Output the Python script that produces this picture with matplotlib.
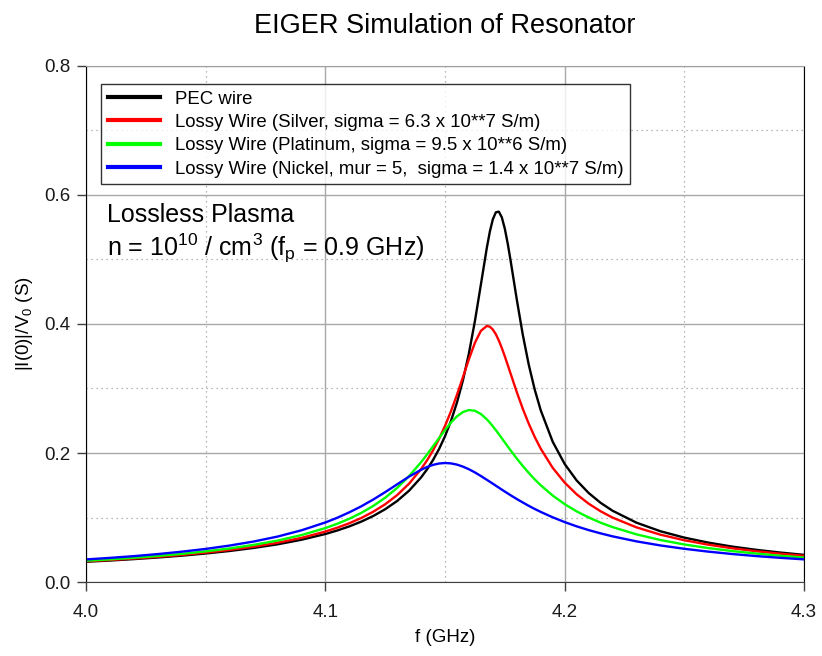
import matplotlib
matplotlib.use("Agg")
import matplotlib.pyplot as plt
from matplotlib.ticker import MultipleLocator, FormatStrFormatter

plt.rcParams['font.family'] = ['Liberation Sans', 'DejaVu Sans']
plt.rcParams['mathtext.fontset'] = 'custom'
plt.rcParams['mathtext.rm'] = 'Liberation Sans'
plt.rcParams['mathtext.it'] = 'Liberation Sans:italic'

# frequency samples (GHz), denser around the resonance
freq = [4.000, 4.010, 4.020, 4.030, 4.040, 4.050, 4.060, 4.070, 4.080, 4.090, 4.100,
        4.105, 4.110, 4.115, 4.120, 4.125, 4.130, 4.135, 4.140,
        4.1425, 4.145, 4.1475, 4.150, 4.1525, 4.155, 4.1575, 4.160, 4.1625, 4.165,
        4.1675, 4.16875, 4.170, 4.17125, 4.1725, 4.17375, 4.175, 4.17625, 4.1775,
        4.180, 4.1825, 4.185, 4.1875, 4.190,
        4.195, 4.200, 4.205, 4.210, 4.215, 4.220,
        4.230, 4.240, 4.250, 4.260, 4.270, 4.280, 4.290, 4.300]

# |I(0)|/V0
pec = [0.0314, 0.0333, 0.0355, 0.0380, 0.0408, 0.0442, 0.0481, 0.0528, 0.0584, 0.0655, 0.0744,
       0.0799, 0.0862, 0.0936, 0.1023, 0.1128, 0.1256, 0.1416, 0.1621,
       0.1746, 0.1891, 0.2060, 0.2259, 0.2497, 0.2782, 0.3128, 0.3545, 0.4044, 0.4612,
       0.5186, 0.5434, 0.5624, 0.5732, 0.5742, 0.5653, 0.5477, 0.5239, 0.4963,
       0.4379, 0.3835, 0.3369, 0.2982, 0.2662,
       0.2175, 0.1830, 0.1575, 0.1381, 0.1228, 0.1105,
       0.0920, 0.0787, 0.0688, 0.0611, 0.0549, 0.0499, 0.0457, 0.0421]
silver = [0.0321, 0.0341, 0.0364, 0.0390, 0.0420, 0.0456, 0.0497, 0.0547, 0.0608, 0.0684, 0.0782,
          0.0842, 0.0911, 0.0992, 0.1089, 0.1205, 0.1347, 0.1525, 0.1750,
          0.1886, 0.2040, 0.2217, 0.2419, 0.2647, 0.2902, 0.3176, 0.3455, 0.3708, 0.3894,
          0.3970, 0.3958, 0.3914, 0.3841, 0.3744, 0.3627, 0.3498, 0.3361, 0.3221,
          0.2944, 0.2686, 0.2454, 0.2248, 0.2067,
          0.1770, 0.1541, 0.1360, 0.1215, 0.1097, 0.0999,
          0.0847, 0.0734, 0.0647, 0.0579, 0.0523, 0.0477, 0.0439, 0.0406]
platinum = [0.0330, 0.0351, 0.0376, 0.0404, 0.0436, 0.0475, 0.0520, 0.0575, 0.0642, 0.0727, 0.0836,
            0.0903, 0.0980, 0.1071, 0.1179, 0.1306, 0.1459, 0.1642, 0.1857,
            0.1977, 0.2103, 0.2231, 0.2356, 0.2472, 0.2568, 0.2635, 0.2666, 0.2655, 0.2605,
            0.2521, 0.2470, 0.2414, 0.2354, 0.2292, 0.2228, 0.2164, 0.2100, 0.2037,
            0.1914, 0.1799, 0.1691, 0.1591, 0.1500,
            0.1340, 0.1207, 0.1095, 0.1001, 0.0920, 0.0851,
            0.0739, 0.0651, 0.0582, 0.0526, 0.0480, 0.0441, 0.0407, 0.0379]
nickel = [0.0350, 0.0374, 0.0401, 0.0433, 0.0470, 0.0513, 0.0565, 0.0627, 0.0704, 0.0801, 0.0923,
          0.0996, 0.1080, 0.1173, 0.1278, 0.1393, 0.1514, 0.1634, 0.1740,
          0.1783, 0.1816, 0.1837, 0.1845, 0.1839, 0.1820, 0.1789, 0.1748, 0.1699, 0.1643,
          0.1584, 0.1554, 0.1524, 0.1493, 0.1463, 0.1432, 0.1402, 0.1373, 0.1343,
          0.1287, 0.1233, 0.1181, 0.1132, 0.1087,
          0.1003, 0.0929, 0.0863, 0.0805, 0.0754, 0.0708,
          0.0630, 0.0567, 0.0515, 0.0471, 0.0434, 0.0402, 0.0375, 0.0351]

labels = ['PEC wire',
          'Lossy Wire (Silver, sigma = 6.3 x 10**7 S/m)',
          'Lossy Wire (Platinum, sigma = 9.5 x 10**6 S/m)',
          'Lossy Wire (Nickel, mur = 5,  sigma = 1.4 x 10**7 S/m)']
colors = ['#000000', '#ff0000', '#00ff00', '#0000ff']

fig = plt.figure(figsize=(8.22, 6.56), dpi=100)
ax = fig.add_axes([0.1046, 0.1128, 0.8735, 0.7866])

for ys, lab, c in zip([pec, silver, platinum, nickel], labels, colors):
    ax.plot(freq, ys, color=c, lw=1.7, label=lab)

ax.set_xlim(4.0, 4.3)
ax.set_ylim(0.0, 0.8)
ax.xaxis.set_major_locator(MultipleLocator(0.1))
ax.xaxis.set_minor_locator(MultipleLocator(0.05))
ax.yaxis.set_major_locator(MultipleLocator(0.2))
ax.yaxis.set_minor_locator(MultipleLocator(0.1))
ax.xaxis.set_major_formatter(FormatStrFormatter('%.1f'))
ax.yaxis.set_major_formatter(FormatStrFormatter('%.1f'))

ax.grid(which='major', color='#a8a8a8', lw=1.0, ls='-')
ax.grid(which='minor', color='#a0a0a0', lw=0.9, ls=(0, (1, 3)))
ax.set_axisbelow(True)

ax.tick_params(which='major', direction='out', length=6.5, width=1, colors='#404040',
               labelcolor='#1a1a1a', labelsize=13.5)
ax.tick_params(axis='x', which='major', pad=9)
ax.tick_params(axis='y', which='major', pad=5)
ax.tick_params(which='minor', length=0)

ax.spines['left'].set_color('#000000')
ax.spines['right'].set_color('#000000')
ax.spines['bottom'].set_color('#404040')
ax.spines['top'].set_color('#a0a0a0')

ax.set_title('EIGER Simulation of Resonator', fontsize=19.5, pad=24)
ax.set_xlabel('f (GHz)', fontsize=13.5, labelpad=6)
ax.set_ylabel('|I(0)|/V$_0$ (S)', fontsize=13.5, labelpad=6)

leg = ax.legend(loc='upper left', bbox_to_anchor=(0.0209, 0.965), fontsize=13.4,
                frameon=True, fancybox=False, shadow=False, borderaxespad=0,
                handlelength=2.8, handletextpad=0.8, borderpad=0.35, labelspacing=0.34)
leg.get_frame().set_edgecolor('black')
leg.get_frame().set_linewidth(1.0)
for line in leg.get_lines():
    line.set_linewidth(3.0)

ax.text(0.0288, 0.698, 'Lossless Plasma', transform=ax.transAxes, fontsize=18)
ax.text(0.0288, 0.632, r'n = 10$^{10}$ / cm$^3$ (f$_\mathrm{p}$ = 0.9 GHz)',
        transform=ax.transAxes, fontsize=18)

fig.savefig('out.png', dpi=100)
